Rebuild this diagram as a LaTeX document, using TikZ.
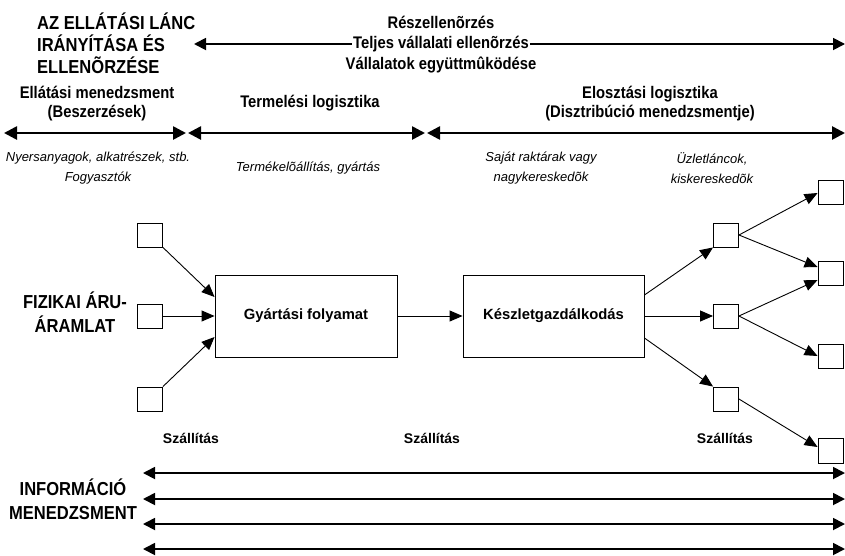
\documentclass[tikz,border=0pt]{standalone}
\usepackage{fontspec}
\setmainfont{Liberation Sans}
\newfontfamily\narrowfont[FakeStretch=0.88]{Liberation Sans}
\usetikzlibrary{arrows.meta}
\begin{document}
\begin{tikzpicture}[x=1pt,y=-1pt,
  tip/.style={-{Triangle[length=13pt,width=11pt]}},
  bigarrow/.style={{Triangle[length=13pt,width=13pt]}-{Triangle[length=13pt,width=13pt]}, line width=2.6pt},
  ctlarrow/.style={{Triangle[length=12pt,width=12pt]}-{Triangle[length=12pt,width=12pt]}, line width=1.8pt},
  infoarrow/.style={{Triangle[length=12pt,width=12pt]}-{Triangle[length=12pt,width=12pt]}, line width=1.8pt},
  conn/.style={tip, line width=0.9pt},
  smallbox/.style={draw, line width=0.9pt, minimum width=25pt, minimum height=24pt, inner sep=0pt},
  bigbox/.style={draw, line width=0.9pt, inner sep=0pt, font=\bfseries\fontsize{14.8}{17}\selectfont},
  head/.style={font=\narrowfont\bfseries\fontsize{18.8}{22}\selectfont},
  sub/.style={font=\narrowfont\bfseries\fontsize{16.8}{19}\selectfont, align=center},
  note/.style={font=\itshape\fontsize{13}{20}\selectfont, align=center},
  ship/.style={font=\bfseries\fontsize{14}{17}\selectfont}]
\useasboundingbox (0,0) rectangle (845,555);

% control header
\node[head, align=left, anchor=west, inner sep=0pt] (title) at (37,43)
  {AZ ELLÁTÁSI LÁNC\\IRÁNYÍTÁSA ÉS\\ELLENÕRZÉSE};
\coordinate (ctlL) at (194,44);
\coordinate (ctlR) at (845,44);
\draw[ctlarrow] (ctlL) -- (ctlR);
\node[sub, fill=white, inner sep=1pt] (ctl2) at (441,44) {Teljes vállalati ellenõrzés};
\node[sub] (ctl1) at (441,22) {Részellenõrzés};
\node[sub] (ctl3) at (441,65) {Vállalatok együttmûködése};

% logistics areas
\node[sub] (supply) at (97,104) {Ellátási menedzsment\\(Beszerzések)};
\node[sub] (prod) at (310,103) {Termelési logisztika};
\node[sub] (distr) at (650,104) {Elosztási logisztika\\(Disztribúció menedzsmentje)};
\coordinate (a0) at (4,133);
\coordinate (a1l) at (186,133);
\coordinate (a1r) at (188,133);
\coordinate (a2l) at (425,133);
\coordinate (a2r) at (427,133);
\coordinate (a3) at (845,133);
\draw[bigarrow] (a0) -- (a1l);
\draw[bigarrow] (a1r) -- (a2l);
\draw[bigarrow] (a2r) -- (a3);

% participants
\node[note] (n1) at (98,168) {Nyersanyagok, alkatrészek, stb.\\Fogyasztók};
\node[note] (n2) at (308,168) {Termékelõállítás, gyártás};
\node[note] (n3) at (541,168) {Saját raktárak vagy\\nagykereskedõk};
\node[note] (n4) at (712,168) {Üzletláncok,\\kiskereskedõk};

% physical flow
\node[font=\narrowfont\bfseries\fontsize{18.8}{24}\selectfont, align=center] (phys) at (75,312) {FIZIKAI ÁRU-\\ÁRAMLAT};

\node[smallbox] (s1) at (150,235) {};
\node[smallbox] (s2) at (150,316) {};
\node[smallbox] (s3) at (150,399) {};

\node[bigbox, minimum width=182pt, minimum height=82pt] (gy) at (306,316) {Gyártási folyamat};
\node[bigbox, minimum width=181pt, minimum height=82pt] (ke) at (553.5,316) {Készletgazdálkodás};

\draw[conn] (s1.south east) -- (gy.west |- 0,297);
\draw[conn] (s2.east) -- (gy.west);
\draw[conn] (s3.north east) -- (gy.west |- 0,337);
\draw[conn] (gy.east) -- (ke.west);

\node[smallbox] (d1) at (726,235) {};
\node[smallbox] (d2) at (726,316) {};
\node[smallbox] (d3) at (726,399) {};

\draw[conn] (ke.east |- 0,295) -- (d1.south west);
\draw[conn] (ke.east) -- (d2.west);
\draw[conn] (ke.east |- 0,338) -- (d3.north west);

\node[smallbox] (r1) at (830.5,192) {};
\node[smallbox] (r2) at (830.5,273) {};
\node[smallbox] (r3) at (830.5,356) {};
\node[smallbox, minimum height=25pt] (r4) at (830.5,450.5) {};

\draw[conn] (d1.east) -- (r1.west |- 0,193);
\draw[conn] (d1.east) -- (r2.west |- 0,267);
\draw[conn] (d2.east) -- (r2.west |- 0,280);
\draw[conn] (d2.east) -- (r3.west);
\draw[conn] (d3.east) -- (r4.west |- 0,447);

\node[ship] (t1) at (191,438) {Szállítás};
\node[ship] (t2) at (432,438) {Szállítás};
\node[ship] (t3) at (725,438) {Szállítás};

% information management
\node[font=\narrowfont\bfseries\fontsize{18.8}{24}\selectfont, align=center] (info) at (73,499) {INFORMÁCIÓ\\MENEDZSMENT};
\foreach \y/\n in {473/i1,499/i2,524/i3,549/i4} {
  \coordinate (\n l) at (143,\y);
  \coordinate (\n r) at (845,\y);
  \draw[infoarrow] (\n l) -- (\n r);
}
\end{tikzpicture}
\end{document}
